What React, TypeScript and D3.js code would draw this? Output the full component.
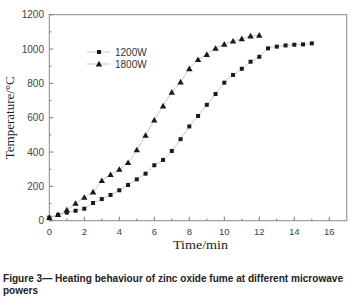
import React from "react";
import * as d3 from "d3";

const times1200 = [0,0.5,1,1.5,2,2.5,3,3.5,4,4.5,5,5.5,6,6.5,7,7.5,8,8.5,9,9.5,10,10.5,11,11.5,12,12.5,13,13.5,14,14.5,15];
const temps1200 = [18,33,47,58,70,103,126,150,177,208,241,274,323,354,406,475,549,610,675,738,804,849,885,926,955,1004,1014,1021,1025,1027,1033];
const times1800 = [0,0.5,1,1.5,2,2.5,3,3.5,4,4.5,5,5.5,6,6.5,7,7.5,8,8.5,9,9.5,10,10.5,11,11.5,12];
const temps1800 = [18,35,62,101,136,167,233,268,299,338,412,497,586,668,748,808,885,938,968,1004,1028,1046,1060,1076,1080];
const xTicks = [0,2,4,6,8,10,12,14,16];
const yTicks = [0,200,400,600,800,1000,1200];
const seriesNames = ["1200W", "1800W"];

export default function App() {
  const W = 362, H = 303;
  const x = d3.scaleLinear().domain([0, 17]).range([49.3, 346.8]);
  const y = d3.scaleLinear().domain([0, 1200]).range([220.7, 14.7]);
  const line = d3.line<[number, number]>().x(d => x(d[0])).y(d => y(d[1])).curve(d3.curveCatmullRom);
  const s1: [number, number][] = times1200.map((t, i) => [t, temps1200[i]]);
  const s2: [number, number][] = times1800.map((t, i) => [t, temps1800[i]]);
  const xMinor = d3.range(1, 17, 2);
  const yMinor = d3.range(100, 1200, 200);
  const sq = 4;
  const tri = (cx: number, cy: number, r = 3.2) =>
    `M${cx},${cy - r}L${cx + r},${cy + r * 0.75}L${cx - r},${cy + r * 0.75}Z`;
  const [x0, x1] = x.range();
  const [yb, yt] = y.range();
  return (
    <svg width={W} height={H} style={{ position: "absolute", left: 0, top: 0, background: "#fff" }}>
      <rect x={0} y={0} width={W} height={H} fill="#fff" />
      <rect x={x0} y={yt} width={x1 - x0} height={yb - yt} fill="none" stroke="#8a8a8a" strokeWidth={1} />
      {xTicks.map(t => (
        <g key={"xt" + t}>
          <line x1={x(t)} x2={x(t)} y1={yb} y2={yb - 4} stroke="#777" />
          <text x={x(t)} y={235} textAnchor="middle" fontFamily="Liberation Sans, Arial" fontSize={9.5} fill="#444">{t}</text>
        </g>
      ))}
      {xMinor.map(t => (
        <line key={"xm" + t} x1={x(t)} x2={x(t)} y1={yb} y2={yb - 2} stroke="#777" />
      ))}
      {yTicks.map(t => (
        <g key={"yt" + t}>
          <line x1={x0} x2={x0 + 4} y1={y(t)} y2={y(t)} stroke="#777" />
          <text x={44} y={y(t) + 3.5} textAnchor="end" fontFamily="Liberation Sans, Arial" fontSize={10} fill="#444">{t}</text>
        </g>
      ))}
      {yMinor.map(t => (
        <line key={"ym" + t} x1={x0} x2={x0 + 2} y1={y(t)} y2={y(t)} stroke="#777" />
      ))}
      <path d={line(s1) || ""} fill="none" stroke="#c8c8c8" strokeWidth={1} />
      <path d={line(s2) || ""} fill="none" stroke="#c8c8c8" strokeWidth={1} />
      {s1.map((d, i) => (
        <rect key={"p1" + i} x={x(d[0]) - sq / 2} y={y(d[1]) - sq / 2} width={sq} height={sq} fill="#1a1a1a" />
      ))}
      {s2.map((d, i) => (
        <path key={"p2" + i} d={tri(x(d[0]), y(d[1]))} fill="#1a1a1a" />
      ))}
      {/* legend */}
      <line x1={87} x2={110} y1={52} y2={52} stroke="#c8c8c8" />
      <rect x={99 - sq / 2} y={52 - sq / 2} width={sq} height={sq} fill="#1a1a1a" />
      <text x={115} y={55.5} fontFamily="Liberation Sans, Arial" fontSize={10} fill="#333">{seriesNames[0]}</text>
      <line x1={87} x2={110} y1={64} y2={64} stroke="#c8c8c8" />
      <path d={tri(99, 64)} fill="#1a1a1a" />
      <text x={115} y={67.5} fontFamily="Liberation Sans, Arial" fontSize={10} fill="#333">{seriesNames[1]}</text>
      {/* axis titles */}
      <text x={200.5} y={249.3} textAnchor="middle" fontFamily="Liberation Serif, Times New Roman" fontSize={13.5} fill="#222" textLength={55} lengthAdjust="spacingAndGlyphs">Time/min</text>
      <text transform={`translate(14,${(yb + yt) / 2}) rotate(-90)`} textAnchor="middle" fontFamily="Liberation Serif, Times New Roman" fontSize={13} fill="#222">Temperature/°C</text>
      {/* caption */}
      <text x={3} y={282} fontFamily="Liberation Sans, Arial" fontWeight="bold" fontSize={10} fill="#222" textLength={340} lengthAdjust="spacingAndGlyphs">Figure 3— Heating behaviour of zinc oxide fume at different microwave</text>
      <text x={3} y={294} fontFamily="Liberation Sans, Arial" fontWeight="bold" fontSize={10} fill="#222">powers</text>
    </svg>
  );
}
